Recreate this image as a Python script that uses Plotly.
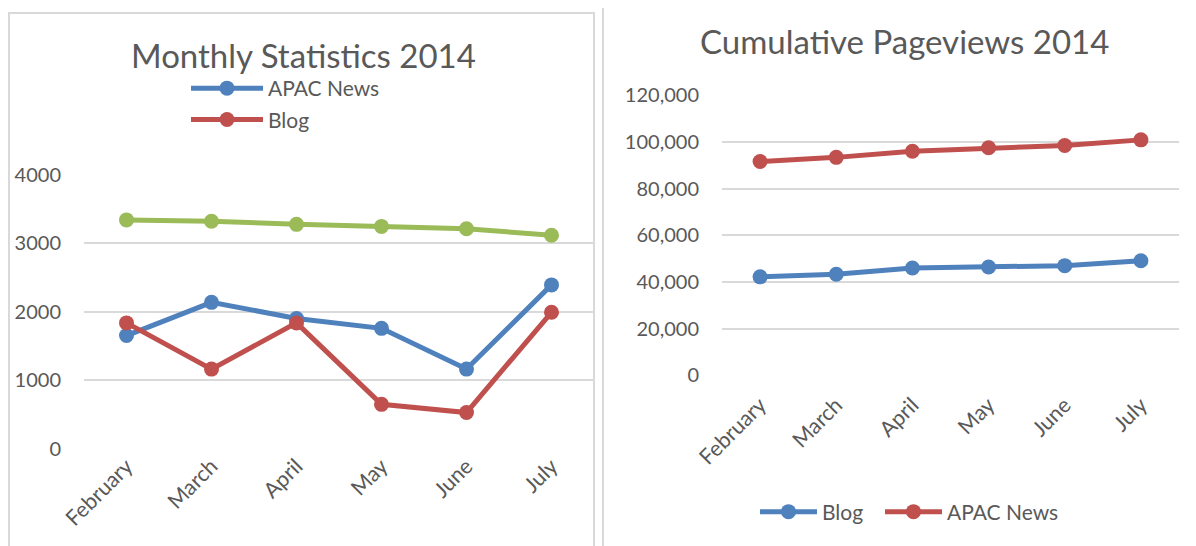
import plotly.graph_objects as go

# ---------------- data ----------------
months = ["February", "March", "April", "May", "June", "July"]

# Left chart: Monthly Statistics 2014
monthly_apac = [1650, 2135, 1900, 1755, 1160, 2390]
monthly_blog = [1835, 1160, 1835, 645, 525, 1990]
monthly_other = [3340, 3320, 3275, 3245, 3210, 3115]
monthly_ticks = [0, 1000, 2000, 3000, 4000]

# Right chart: Cumulative Pageviews 2014
cum_blog = [42200, 43300, 46000, 46400, 47000, 49100]
cum_apac = [91600, 93400, 96000, 97500, 98500, 100900]
cum_ticks = [0, 20000, 40000, 60000, 80000, 100000, 120000]

# ---------------- style ----------------
OFF = 8                      # default page body margin
W, H = 1196 - OFF, 546 - OFF
FONT = "Lato"
TXT = "#595959"
GRID = "#d9d9d9"
BLUE = "#4f81bd"
RED = "#c0504d"
GREEN = "#9bbb59"


def px_x(p):
    return (p - OFF) / W


def px_y(p):
    return 1 - (p - OFF) / H


fig = go.Figure()

line_w = 5
msize = 15

fig.add_trace(go.Scatter(x=months, y=monthly_other, name="Other", mode="lines+markers",
                         line=dict(color=GREEN, width=line_w), marker=dict(size=msize, color=GREEN),
                         showlegend=False, xaxis="x", yaxis="y", cliponaxis=False))
fig.add_trace(go.Scatter(x=months, y=monthly_apac, name="APAC News", mode="lines+markers",
                         line=dict(color=BLUE, width=line_w), marker=dict(size=msize, color=BLUE),
                         legend="legend", legendgroup="l1", xaxis="x", yaxis="y", cliponaxis=False))
fig.add_trace(go.Scatter(x=months, y=monthly_blog, name="Blog", mode="lines+markers",
                         line=dict(color=RED, width=line_w), marker=dict(size=msize, color=RED),
                         legend="legend", legendgroup="l2", xaxis="x", yaxis="y", cliponaxis=False))

fig.add_trace(go.Scatter(x=months, y=cum_blog, name="Blog", mode="lines+markers",
                         line=dict(color=BLUE, width=line_w), marker=dict(size=msize, color=BLUE),
                         legend="legend2", xaxis="x2", yaxis="y2", cliponaxis=False))
fig.add_trace(go.Scatter(x=months, y=cum_apac, name="APAC News", mode="lines+markers",
                         line=dict(color=RED, width=line_w), marker=dict(size=msize, color=RED),
                         legend="legend3", xaxis="x2", yaxis="y2", cliponaxis=False))

xaxis_common = dict(type="category", categoryorder="array", categoryarray=months,
                    range=[-0.5, 5.5], showgrid=False, showline=False, zeroline=False,
                    ticks="", tickangle=-45, tickfont=dict(family=FONT, size=21.5, color=TXT),
                    fixedrange=True, automargin=False)
yaxis_common = dict(showgrid=True, gridcolor=GRID, gridwidth=2, zeroline=False, showline=False,
                    ticks="", tickfont=dict(family=FONT, size=20, color=TXT), ticklabelstandoff=22,
                    fixedrange=True, automargin=False)

leg_font = dict(family=FONT, size=21, color=TXT)

fig.update_layout(
    template="none",
    width=W, height=H, autosize=False,
    margin=dict(l=0, r=0, t=0, b=0, pad=0),
    paper_bgcolor="white", plot_bgcolor="white",
    font=dict(family=FONT, color=TXT),
    xaxis=dict(domain=[px_x(84), px_x(594)], anchor="y", ticklabelstandoff=0, **xaxis_common),
    yaxis=dict(domain=[px_y(448.5), px_y(174.7)], anchor="x", range=[0, 4000],
               tickvals=monthly_ticks, tickformat="d", **yaxis_common),
    xaxis2=dict(domain=[px_x(722), px_x(1179)], anchor="y2", ticklabelstandoff=12, **xaxis_common),
    yaxis2=dict(domain=[px_y(375.3), px_y(95.3)], anchor="x2", range=[0, 120000],
                tickvals=cum_ticks, tickformat=",d", **yaxis_common),
    legend=dict(x=px_x(186), y=px_y(68), xanchor="left", yanchor="top", orientation="v",
                font=leg_font, bgcolor="rgba(0,0,0,0)", itemwidth=72, tracegroupgap=1),
    legend2=dict(x=px_x(755), y=px_y(512), xanchor="left", yanchor="middle", orientation="h",
                 font=leg_font, bgcolor="rgba(0,0,0,0)", itemwidth=57),
    legend3=dict(x=px_x(880), y=px_y(512), xanchor="left", yanchor="middle", orientation="h",
                 font=leg_font, bgcolor="rgba(0,0,0,0)", itemwidth=57),
    annotations=[
        dict(text="Monthly Statistics 2014", x=px_x(303), y=px_y(55), xref="paper", yref="paper",
             xanchor="center", yanchor="middle", showarrow=False,
             font=dict(family=FONT, size=33, color=TXT)),
        dict(text="Cumulative Pageviews 2014", x=px_x(904), y=px_y(41), xref="paper", yref="paper",
             xanchor="center", yanchor="middle", showarrow=False,
             font=dict(family=FONT, size=33, color=TXT)),
    ],
    shapes=[
        dict(type="rect", xref="paper", yref="paper", x0=px_x(9), x1=px_x(594),
             y0=-0.1, y1=px_y(13), line=dict(color=GRID, width=2), layer="below"),
        dict(type="line", xref="paper", yref="paper", x0=px_x(603), x1=px_x(603),
             y0=-0.1, y1=1.1, line=dict(color=GRID, width=2), layer="below"),
    ],
)

fig.write_html("out.html")
